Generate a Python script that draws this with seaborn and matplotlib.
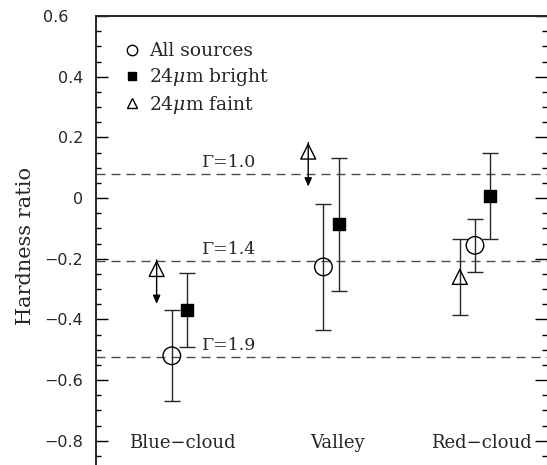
import matplotlib
matplotlib.use('Agg')
import matplotlib.pyplot as plt
from matplotlib.lines import Line2D
from matplotlib.ticker import MultipleLocator, FixedLocator, FixedFormatter
from matplotlib.transforms import ScaledTranslation
import numpy as np
import pandas as pd
import seaborn as sns

# regions along the colour-magnitude diagram
categories = ['Blue\u2212cloud', 'Valley', 'Red\u2212cloud']
cat_pos = [1, 2, 3]

# hardness ratios
all_hr = [-0.520, -0.227, -0.156]
all_err = [0.150, 0.207, 0.088]
bright_hr = [-0.369, -0.087, 0.006]
bright_err = [0.122, 0.218, 0.141]
faint_hr = [-0.234, 0.153, -0.260]
faint_err = [0.115, 0.115, 0.124]
faint_is_limit = [True, True, False]

# reference power-law photon indices
gamma_labels = ['\u0393=1.0', '\u0393=1.4', '\u0393=1.9']
gamma_hr = [0.078, -0.208, -0.525]

ytick_values = [-0.8, -0.6, -0.4, -0.2, 0.0, 0.2, 0.4, 0.6]
ytick_labels = ['\u22120.8', '\u22120.6', '\u22120.4', '\u22120.2', '0', '0.2', '0.4', '0.6']

sns.set_style('ticks')
plt.rcParams['font.family'] = ['DejaVu Serif']
plt.rcParams['mathtext.fontset'] = 'dejavuserif'

# long-form table, one row per point
offsets = {'all': 0.0, 'bright': 0.1, 'faint': -0.1}
rows = []
for i, reg in enumerate(categories):
    rows.append(dict(region=reg, sample='all', xpos=cat_pos[i] + offsets['all'],
                     hr=all_hr[i], err=all_err[i], limit=False))
    rows.append(dict(region=reg, sample='bright', xpos=cat_pos[i] + offsets['bright'],
                     hr=bright_hr[i], err=bright_err[i], limit=False))
    rows.append(dict(region=reg, sample='faint', xpos=cat_pos[i] + offsets['faint'],
                     hr=faint_hr[i], err=faint_err[i], limit=faint_is_limit[i]))
df = pd.DataFrame(rows)

fig = plt.figure(figsize=(5.47, 4.65), dpi=100)
ax = fig.add_axes([96 / 547, 0.0, 451 / 547, 1 - 16 / 465])

# dashed reference lines with their labels
for lab, val in zip(gamma_labels, gamma_hr):
    ax.axhline(val, color='0.3', lw=1.0, ls=(0, (6.5, 4.3)), zorder=1)
    ax.annotate(lab, xy=(1.376, val), xytext=(0, 5), textcoords='offset points',
                ha='center', va='baseline', fontsize=12.5)

# error bars (normal measurements)
ok = df[~df['limit']]
ax.errorbar(ok['xpos'], ok['hr'], yerr=ok['err'], fmt='none', ecolor='0.15',
            elinewidth=1.0, capsize=6, capthick=1.0, zorder=2)

# upper limits drawn as downward arrows
lim = df[df['limit']]
for _, r in lim.iterrows():
    ax.annotate('', xy=(r['xpos'], r['hr'] - r['err']), xytext=(r['xpos'], r['hr'] + 0.03),
                arrowprops=dict(arrowstyle='-|>,head_length=0.5,head_width=0.22',
                                color='black', lw=1.0,
                                mutation_scale=10, shrinkA=0, shrinkB=0), zorder=2)

# markers
styles = {
    'all': dict(marker='o', s=160, facecolor='none'),
    'bright': dict(marker='s', s=85, facecolor='black'),
    'faint': dict(marker='^', s=115, facecolor='none'),
}
for name, st in styles.items():
    sub = df[df['sample'] == name]
    sns.scatterplot(data=sub, x='xpos', y='hr', marker=st['marker'], s=st['s'],
                    facecolor=st['facecolor'], edgecolor='black', linewidth=1.0,
                    legend=False, ax=ax, zorder=3)

# region names inside the frame
label_x = [1.068, 2.09, 3.04]
for xx, lab in zip(label_x, categories):
    ax.text(xx, -0.808, lab, ha='center', va='center', fontsize=13)

handles = [
    Line2D([], [], ls='none', marker='o', ms=7.5, mfc='none', mec='black', mew=1.0),
    Line2D([], [], ls='none', marker='s', ms=6, mfc='black', mec='black', mew=1.0),
    Line2D([], [], ls='none', marker='^', ms=7, mfc='none', mec='black', mew=1.0),
]
ax.legend(handles, ['All sources', r'24$\mu$m bright', r'24$\mu$m faint'],
          loc='upper left', bbox_to_anchor=(0.06, 0.941), frameon=False,
          borderaxespad=0, borderpad=0, handlelength=1.0, handletextpad=0.4,
          labelspacing=0.3, fontsize=13.5)

ax.set_xlim(0.5, 3.475)
ax.set_ylim(-0.88, 0.6)
ax.set_xticks([])
ax.set_xlabel('')
ax.yaxis.set_major_locator(FixedLocator(ytick_values))
ax.yaxis.set_major_formatter(FixedFormatter(ytick_labels))
ax.yaxis.set_minor_locator(MultipleLocator(0.05))
ax.tick_params(axis='y', which='both', direction='in', left=True, right=True, width=1.0,
               color='black')
ax.tick_params(axis='y', which='major', length=8.5, pad=9, labelsize=11.5)
ax.tick_params(axis='y', which='minor', length=3.5)
for tick in ax.yaxis.get_major_ticks():
    tick.label1.set_family('DejaVu Sans')
# the top label sits further left in the original
top_tick = ax.yaxis.get_major_ticks()[len(ytick_values) - 1]
top_tick.label1.set_transform(top_tick.label1.get_transform()
                              + ScaledTranslation(-0.15, 0, fig.dpi_scale_trans))
ax.set_ylabel('Hardness ratio', fontsize=15)
ax.yaxis.set_label_coords(-0.135, 0.487)

ax.spines['bottom'].set_visible(False)
ax.spines['right'].set_visible(False)
ax.spines['left'].set_linewidth(1.4)
ax.spines['top'].set_linewidth(1.4)

fig.savefig('out.png', dpi=100)
